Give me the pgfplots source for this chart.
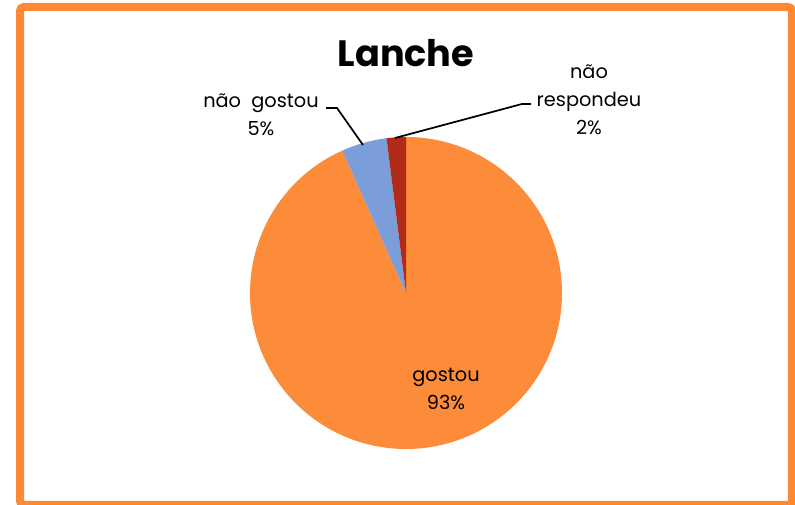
\documentclass[border=0pt]{standalone}
\usepackage{pgfplots}
\pgfplotsset{compat=1.18}
\usepackage{fontspec}
\setmainfont{Poppins}
\definecolor{pieorange}{RGB}{252,139,58}
\definecolor{pieblue}{RGB}{123,157,218}
\definecolor{piered}{RGB}{178,42,26}
\definecolor{frameorange}{RGB}{253,137,52}
\begin{document}
\begin{tikzpicture}
\begin{axis}[
  scale only axis, width=596.25pt, height=378.75pt,
  xmin=0, xmax=795, ymin=0, ymax=505,
  hide axis, clip=true]
% values (percent): gostou 93.3, nao gostou 4.7, nao respondeu 2.0
\def\R{117pt}
\fill[pieorange] (axis cs:406,212) -- ++(90:\R) arc[start angle=90, end angle={90-3.6*93.3}, radius=\R] -- cycle;
\fill[pieblue] (axis cs:406,212) -- ++({90-3.6*93.3}:\R) arc[start angle={90-3.6*93.3}, end angle={90-3.6*98.0}, radius=\R] -- cycle;
\fill[piered] (axis cs:406,212) -- ++({90-3.6*98.0}:\R) arc[start angle={90-3.6*98.0}, end angle={90-3.6*100}, radius=\R] -- cycle;
% frame
\draw[frameorange, line width=6pt, rounded corners=3pt] (axis cs:20,498) rectangle (axis cs:792,0);
% leaders
\draw[black, line width=1.3pt] (axis cs:326,397) -- (axis cs:337,397) -- (axis cs:363,360);
\draw[black, line width=1.3pt] (axis cs:395,367) -- (axis cs:522,401) -- (axis cs:531,401);
% labels
\node[font=\bfseries\fontsize{27.5}{33}\selectfont] at (axis cs:406,452) {Lanche};
\node[font=\fontsize{14.5}{21}\selectfont, align=center] at (axis cs:261,390) {não\ \ gostou\\5\%};
\node[font=\fontsize{14.5}{21}\selectfont, align=center] at (axis cs:589,405) {não\\respondeu\\2\%};
\node[font=\fontsize{14.5}{21}\selectfont, align=center] at (axis cs:446,116) {gostou\\93\%};
\end{axis}
\pgfresetboundingbox
\path (current axis.south west) rectangle (current axis.north east);
\end{tikzpicture}
\end{document}
